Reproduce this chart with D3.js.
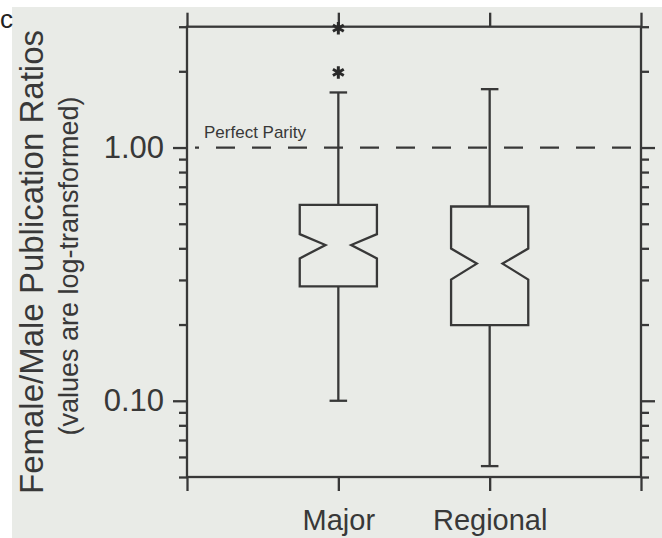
<!DOCTYPE html>
<html>
<head>
<meta charset="utf-8">
<script src="https://cdn.jsdelivr.net/npm/d3@7"></script>
<style>
body{margin:0;background:#ffffff;}
svg{display:block;font-family:"Liberation Sans",Arial,sans-serif;}
</style>
</head>
<body>
<svg id="display" width="662" height="538"></svg>
<script>
// box statistics
const categories=["Major","Regional"];
const upper_whisker=[1.65,1.70];
const q3=[0.594,0.585];
const notch_high=[0.455,0.399];
const median=[0.412,0.348];
const notch_low=[0.365,0.301];
const q1=[0.283,0.199];
const lower_whisker=[0.100,0.0552];
const outliers=[[1.98,2.96],[]];

const major_ticks=[0.1,1];
const major_tick_labels=["0.10","1.00"];
const minor_ticks=[0.05,0.06,0.07,0.08,0.09,0.2,0.3,0.4,0.5,0.6,0.7,0.8,0.9,2,3];

const display=d3.select("#display");
const ink="#383838";
const lw=2.3;

// paper background
display.append("rect")
    .attr("x",12).attr("y",7)
    .attr("width",650).attr("height",531)
    .attr("fill","#e9ebe7");

// letter from neighbouring figure
display.append("text")
    .attr("x",0).attr("y",28)
    .style("font-size","26px")
    .style("fill","#222")
    .text("c");

const x=d3.scaleLinear().domain([0,3]).range([187,641]);
const y=d3.scaleLog().domain([0.05,3]).range([477,26.7]);

// frame
display.append("rect")
    .attr("x",x(0)).attr("y",y(3))
    .attr("width",x(3)-x(0)).attr("height",y(0.05)-y(3))
    .attr("fill","none")
    .attr("stroke",ink)
    .attr("stroke-width",lw);

function style_axis(g){
    g.select(".domain").remove();
    g.selectAll(".tick line").attr("stroke",ink).attr("stroke-width",lw);
    g.selectAll(".tick text").style("fill",ink).style("font-family","'Liberation Sans',Arial,sans-serif");
}

// y axes, minor and major, on both sides
display.append("g").attr("transform","translate("+x(0)+",0)")
    .call(d3.axisLeft(y).tickValues(minor_ticks).tickSize(8).tickFormat(""))
    .call(style_axis);
display.append("g").attr("transform","translate("+x(0)+",0)")
    .call(d3.axisLeft(y).tickValues(major_ticks).tickSize(14).tickPadding(9)
        .tickFormat((d,i)=>major_tick_labels[i]))
    .call(style_axis)
    .selectAll(".tick text").style("font-size","31px");
display.append("g").attr("transform","translate("+x(3)+",0)")
    .call(d3.axisRight(y).tickValues(minor_ticks).tickSize(8).tickFormat(""))
    .call(style_axis);
display.append("g").attr("transform","translate("+x(3)+",0)")
    .call(d3.axisRight(y).tickValues(major_ticks).tickSize(14).tickFormat(""))
    .call(style_axis);

// x axes
display.append("g").attr("transform","translate(0,"+y(3)+")")
    .call(d3.axisTop(x).tickValues([0,1,2,3]).tickSize(14).tickFormat(""))
    .call(style_axis);
display.append("g").attr("transform","translate(0,"+y(0.05)+")")
    .call(d3.axisBottom(x).tickValues([0,1,2,3]).tickSize(14).tickPadding(18)
        .tickFormat(d=>categories[d-1]||""))
    .call(style_axis)
    .selectAll(".tick text").style("font-size","29px");

// y title
display.append("text")
    .attr("transform","translate(43,262) rotate(-90)")
    .style("font-size","33px")
    .style("fill",ink)
    .style("text-anchor","middle")
    .text("Female/Male Publication Ratios");
display.append("text")
    .attr("transform","translate(78,266) rotate(-90)")
    .style("font-size","27px")
    .style("fill",ink)
    .style("text-anchor","middle")
    .text("(values are log-transformed)");

// perfect parity reference
display.append("line")
    .attr("x1",195).attr("x2",x(3))
    .attr("y1",y(1)).attr("y2",y(1))
    .attr("stroke",ink)
    .attr("stroke-width",lw)
    .attr("stroke-dasharray","19,17")
    .attr("stroke-dashoffset",15);
display.append("text")
    .attr("x",204).attr("y",y(1)-10)
    .style("font-size","17px")
    .style("fill",ink)
    .text("Perfect Parity");

// notched boxes
const box_half=x(0.255)-x(0);
const notch_half=x(0.085)-x(0);
const cap_half=x(0.058)-x(0);
categories.forEach((cat,i)=>{
    const cx=x(i+1);
    const l=cx-box_half, r=cx+box_half;
    const path=d3.path();
    path.moveTo(l,y(q3[i]));
    path.lineTo(r,y(q3[i]));
    path.lineTo(r,y(notch_high[i]));
    path.lineTo(cx+notch_half,y(median[i]));
    path.lineTo(r,y(notch_low[i]));
    path.lineTo(r,y(q1[i]));
    path.lineTo(l,y(q1[i]));
    path.lineTo(l,y(notch_low[i]));
    path.lineTo(cx-notch_half,y(median[i]));
    path.lineTo(l,y(notch_high[i]));
    path.closePath();
    display.append("path")
        .attr("d",path.toString())
        .attr("fill","none")
        .attr("stroke",ink)
        .attr("stroke-width",lw)
        .attr("stroke-linejoin","miter");

    // whiskers
    display.append("line")
        .attr("x1",cx).attr("x2",cx)
        .attr("y1",y(q3[i])).attr("y2",y(upper_whisker[i]))
        .attr("stroke",ink).attr("stroke-width",lw);
    display.append("line")
        .attr("x1",cx).attr("x2",cx)
        .attr("y1",y(q1[i])).attr("y2",y(lower_whisker[i]))
        .attr("stroke",ink).attr("stroke-width",lw);
    for (const v of [upper_whisker[i],lower_whisker[i]]){
        display.append("line")
            .attr("x1",cx-cap_half).attr("x2",cx+cap_half)
            .attr("y1",y(v)).attr("y2",y(v))
            .attr("stroke",ink).attr("stroke-width",lw);
    }

    // outliers
    for (const v of outliers[i]){
        display.append("path")
            .attr("d",d3.symbol(d3.symbolAsterisk,110)())
            .attr("transform","translate("+cx+","+y(v)+")")
            .attr("fill","none")
            .attr("stroke","#2a2a2a")
            .attr("stroke-width",3);
    }
});
</script>
</body>
</html>
